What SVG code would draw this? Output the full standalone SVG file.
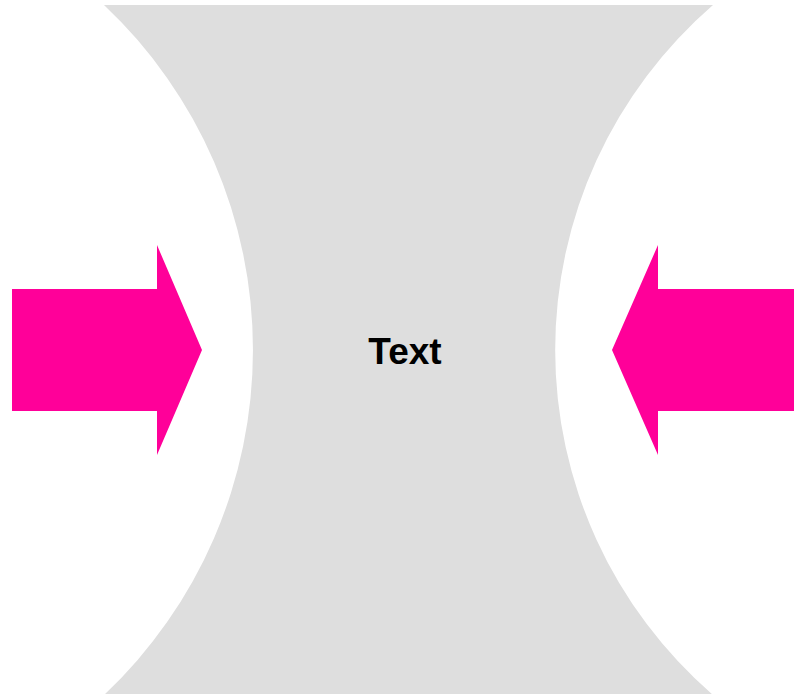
<svg xmlns="http://www.w3.org/2000/svg" width="794" height="694" viewBox="0 0 794 694">
  <style>
    .shape { fill: #dedede; stroke: none; }
    .arrow { fill: #ff0099; stroke: none; }
    .label { font-family: "Liberation Sans", Arial, sans-serif; font-weight: bold; font-size: 37px; fill: #000000; }
  </style>
  <rect x="0" y="0" width="794" height="694" fill="#ffffff"/>
  <g id="center-shape">
    <path class="shape" d="M104,5 L713,5 A456,456 0 0 0 713,695 L104,695 A474,474 0 0 0 104,5 Z"/>
    <text class="label" x="405" y="364" text-anchor="middle">Text</text>
  </g>
  <g id="connectors">
    <polygon id="arrow-left" class="arrow" points="12,289 157,289 157,245 202,350 157,455 157,411 12,411"/>
    <polygon id="arrow-right" class="arrow" points="794,289 658,289 658,245 612,350 658,455 658,411 794,411"/>
  </g>
</svg>
